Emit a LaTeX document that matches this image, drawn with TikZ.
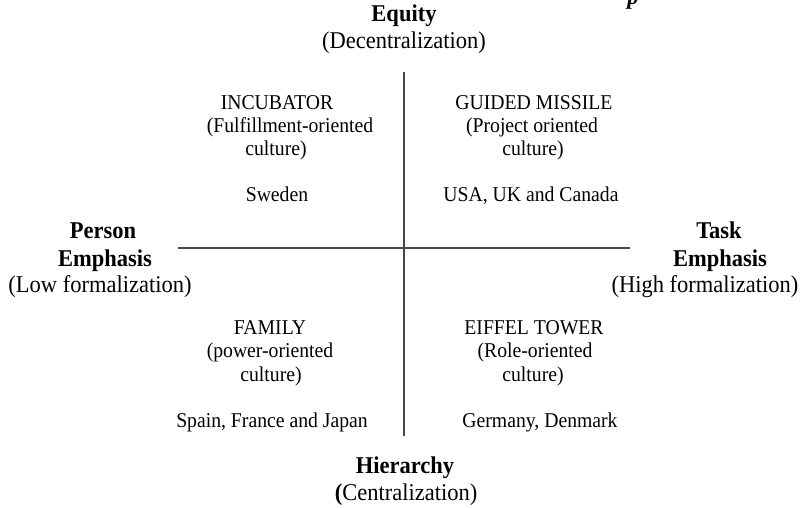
\documentclass[tikz,border=0pt]{standalone}
\usepackage{fontspec}
\usepackage{graphicx}
\setmainfont{Liberation Serif}
\newcommand{\vstretch}[1]{\scalebox{1}[1.07]{#1}}
\begin{document}
\begin{tikzpicture}[x=1pt,y=-1pt,
  qtext/.style={anchor=base,inner sep=0pt,font=\fontsize{19.7}{23.5}\selectfont},
  axtext/.style={anchor=base,inner sep=0pt,font=\fontsize{22.5}{27}\selectfont},
  axbold/.style={anchor=base,inner sep=0pt,font=\fontsize{22.5}{27}\selectfont\bfseries},
  axisline/.style={draw=black!72,line width=2pt}]
\useasboundingbox (0,0) rectangle (812,508);
\begin{scope}
\clip (0,0) rectangle (812,508);
\node[anchor=base,inner sep=0pt,font=\fontsize{22.5}{27}\selectfont\bfseries\itshape] (cutp) at (633,4.5) {p};
\end{scope}
% axes
\coordinate (vtop) at (404,72);
\coordinate (vbot) at (404,436);
\coordinate (hleft) at (178,248);
\coordinate (hright) at (630,248);
\draw[axisline] (vtop) -- (vbot);
\draw[axisline] (hleft) -- (hright);
% axis labels
\node[axbold] (equity) at (404,22) {\vstretch{Equity}};
\node[axtext] (decent) at (404,49) {\vstretch{(Decentralization)}};
\node[axbold] (hier) at (405,473) {\vstretch{Hierarchy}};
\node[axtext] (cent) at (406,500) {\vstretch{{\bfseries(}Centralization)}};
\node[axbold] (person) at (103,238) {\vstretch{Person}};
\node[axbold] (emphl) at (105,266) {\vstretch{Emphasis}};
\node[axtext] (lowf) at (100,292) {\vstretch{(Low formalization)}};
\node[axbold] (task) at (719,238) {\vstretch{Task}};
\node[axbold] (emphr) at (720,266) {\vstretch{Emphasis}};
\node[axtext] (highf) at (705,292) {\vstretch{(High formalization)}};
% quadrant: incubator
\node[qtext] (inc1) at (277,109.5) {\vstretch{INCUBATOR}};
\node[qtext] (inc2) at (290,133) {\vstretch{(Fulfillment-oriented}};
\node[qtext] (inc3) at (276,156) {\vstretch{culture)}};
\node[qtext] (inc4) at (277,202) {\vstretch{Sweden}};
% guided missile
\node[qtext] (gm1) at (534,109.5) {\vstretch{GUIDED MISSILE}};
\node[qtext] (gm2) at (532,133) {\vstretch{(Project oriented}};
\node[qtext] (gm3) at (533,156) {\vstretch{culture)}};
\node[qtext] (gm4) at (531,202) {\vstretch{USA, UK and Canada}};
% family
\node[qtext] (fam1) at (270,334.5) {\vstretch{FAMILY}};
\node[qtext] (fam2) at (270,357) {\vstretch{(power-oriented}};
\node[qtext] (fam3) at (271,381) {\vstretch{culture)}};
\node[qtext] (fam4) at (272,427) {\vstretch{Spain, France and Japan}};
% eiffel tower
\node[qtext] (ei1) at (534,334.5) {\vstretch{EIFFEL TOWER}};
\node[qtext] (ei2) at (535,357) {\vstretch{(Role-oriented}};
\node[qtext] (ei3) at (533,381) {\vstretch{culture)}};
\node[qtext] (ei4) at (540,427) {\vstretch{Germany, Denmark}};
\end{tikzpicture}
\end{document}
